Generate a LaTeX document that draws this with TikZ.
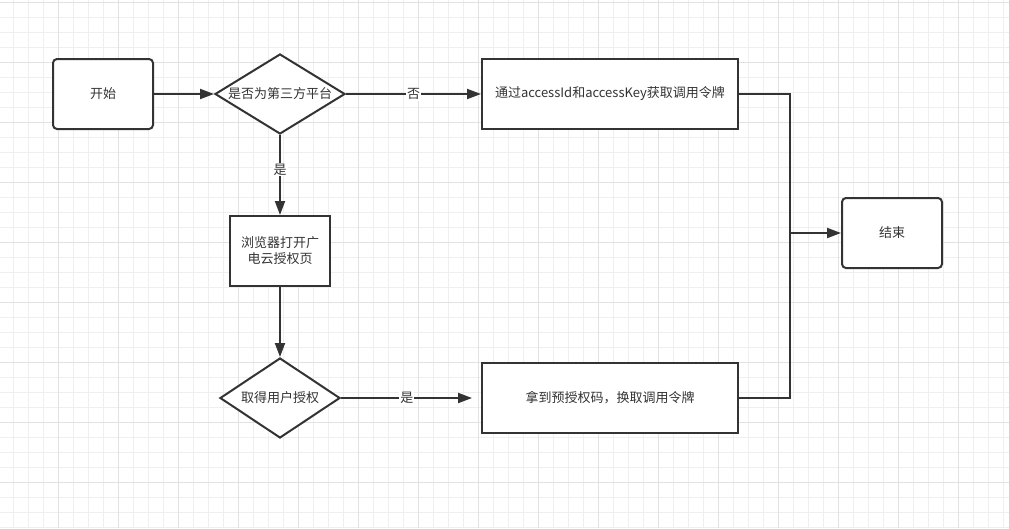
\documentclass[tikz,border=0pt]{standalone}
\usepackage{fontspec}
\setmainfont{Noto Sans CJK SC}
\usetikzlibrary{shapes.geometric,arrows.meta}
\definecolor{ink}{RGB}{51,51,51}
\definecolor{minorgrid}{RGB}{239,239,239}
\definecolor{majorgrid}{RGB}{226,226,226}
\tikzset{
  base/.style={draw=ink, line width=2pt, text=ink, font=\fontsize{13}{16}\selectfont, fill=white, inner sep=0pt},
  terminal/.style={base, rectangle, rounded corners=4pt, minimum width=100pt, minimum height=70pt},
  procbox/.style={base, rectangle, minimum height=70pt},
  decision/.style={base, diamond, shape aspect=1.625},
  conn/.style={draw=ink, line width=2pt, -{Triangle[length=14pt,width=10pt]}},
  plainline/.style={draw=ink, line width=2pt},
  lbl/.style={fill=white, text=ink, font=\fontsize{13}{16}\selectfont, inner sep=1pt},
}
\begin{document}
\begin{tikzpicture}[x=1pt,y=-1pt]
\useasboundingbox (0,0) rectangle (1009,528);
\fill[white] (0,0) rectangle (1009,528);
% grid
\foreach \k in {0,...,66} \draw[minorgrid, line width=1pt] (13.5+15*\k,0) -- (13.5+15*\k,528);
\foreach \k in {0,...,35} \draw[minorgrid, line width=1pt] (0,2+15*\k) -- (1009,2+15*\k);
\foreach \k in {0,...,15} \draw[majorgrid, line width=1pt] (58.5+60*\k,0) -- (58.5+60*\k,528);
\foreach \k in {0,...,8} \draw[majorgrid, line width=1pt] (0,2+60*\k) -- (1009,2+60*\k);
% nodes
\node[terminal] (start) at (103,94) {开始};
\node[decision, minimum width=130pt, minimum height=80pt, label={[text=ink, font=\fontsize{13}{16}\selectfont]center:是否为第三方平台}] (d1) at (280,94) {};
\node[procbox, minimum width=256pt] (tok) at (610,94) {通过accessId和accessKey获取调用令牌};
\node[procbox, minimum width=100pt, align=center] (browser) at (280,251) {浏览器打开广\\电云授权页};
\node[decision, minimum width=120pt, minimum height=80pt, label={[text=ink, font=\fontsize{13}{16}\selectfont]center:取得用户授权}] (d2) at (280,398) {};
\node[procbox, minimum width=256pt] (code) at (610,398) {拿到预授权码，换取调用令牌};
\node[terminal] (finish) at (892,233) {结束};
\coordinate (jn) at (790,233);
% connectors
\draw[conn] (start.east) -- (d1.west);
\draw[conn] (d1.east) -- node[lbl] {否} (tok.west);
\draw[conn] (d1.south) -- node[lbl, pos=0.43] {是} (browser.north);
\draw[conn] (browser.south) -- (d2.north);
\draw[conn, shorten >=9pt] (d2.east) -- node[lbl, pos=0.47] {是} (code.west);
\draw[plainline] (tok.east) -| (jn);
\draw[plainline] (code.east) -| (jn);
\draw[conn] (jn) -- (finish.west);
\end{tikzpicture}
\end{document}
